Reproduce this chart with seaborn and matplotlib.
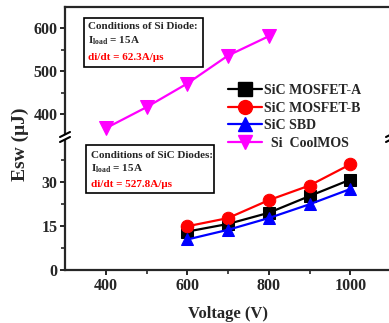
import numpy as np
import pandas as pd
import matplotlib
matplotlib.use("Agg")
import matplotlib.pyplot as plt
from matplotlib.lines import Line2D
from matplotlib.patches import Rectangle
import seaborn as sns

# ---- data -------------------------------------------------------------
sic_voltage = [600, 700, 800, 900, 1000]
mosfet_a = [13.1, 15.7, 19.5, 25.2, 30.8]
mosfet_b = [14.9, 17.7, 23.8, 28.8, 36.0]
sic_sbd = [10.4, 13.7, 17.7, 22.4, 27.6]

si_voltage = [400, 500, 600, 700, 800]
si_coolmos = [368, 417, 472, 537, 582]

series_names = ["SiC MOSFET-A", "SiC MOSFET-B", "SiC SBD", "Si  CoolMOS"]
series_colors = ["#000000", "#ff0000", "#0000ff", "#ff00ff"]
series_markers = ["s", "o", "^", "v"]

x_ticks = [400, 600, 800, 1000]
upper_yticks = [400, 500, 600]
lower_yticks = [0, 15, 30]

# ---- style ------------------------------------------------------------
sns.set_style("ticks")
plt.rcParams["font.family"] = ["Liberation Serif", "DejaVu Serif"]
plt.rcParams["font.weight"] = "bold"
plt.rcParams["mathtext.fontset"] = "custom"
plt.rcParams["mathtext.rm"] = "Liberation Serif:bold"
plt.rcParams["mathtext.bf"] = "Liberation Serif:bold"
plt.rcParams["axes.linewidth"] = 1.6

palette = dict(zip(series_names, series_colors))
marker_map = dict(zip(series_names, series_markers))

low = pd.DataFrame({
    "Voltage": sic_voltage * 3,
    "Esw": mosfet_a + mosfet_b + sic_sbd,
    "Device": [series_names[0]] * 5 + [series_names[1]] * 5 + [series_names[2]] * 5,
})
high = pd.DataFrame({
    "Voltage": si_voltage,
    "Esw": si_coolmos,
    "Device": [series_names[3]] * 5,
})

W, H = 389, 323
fig = plt.figure(figsize=(W / 100, H / 100), dpi=100)
left, right = 65 / W, 391 / W
ax_up = fig.add_axes([left, 1 - 136 / H, right - left, 129 / H])
ax_lo = fig.add_axes([left, 1 - 270 / H, right - left, 132 / H])

sns.lineplot(data=high, x="Voltage", y="Esw", hue="Device", style="Device",
             palette=palette, markers=marker_map, dashes=False,
             linewidth=1.6, markersize=10, legend=False, ax=ax_up)
sns.lineplot(data=low, x="Voltage", y="Esw", hue="Device", style="Device",
             hue_order=series_names[:3], style_order=series_names[:3],
             palette=palette, markers=marker_map, dashes=False,
             linewidth=1.6, markersize=9, legend=False, ax=ax_lo)
for ax in (ax_up, ax_lo):
    for ln in ax.lines:
        ln.set_markeredgecolor(ln.get_color())
        ln.set_markerfacecolor(ln.get_color())

# ---- axes -------------------------------------------------------------
for ax in (ax_up, ax_lo):
    ax.set_xlim(300, 1100)
    ax.set_xlabel("")
    ax.set_ylabel("")
    ax.tick_params(axis="both", which="major", direction="out", length=3.5,
                   width=1.4, labelsize=11.5, pad=2)
    ax.tick_params(axis="both", which="minor", direction="out", length=3,
                   width=1.2)

ax_up.set_ylim(350, 650)
ax_up.set_yticks(upper_yticks)
ax_up.set_yticks([450, 550], minor=True)
ax_up.spines["bottom"].set_visible(False)
ax_up.tick_params(axis="x", which="both", bottom=False, labelbottom=False)

ax_lo.set_ylim(0, 45)
ax_lo.set_yticks(lower_yticks)
ax_lo.set_yticks([7.5, 22.5, 37.5], minor=True)
ax_lo.set_xticks(x_ticks)
ax_lo.set_xticks([500, 700, 900], minor=True)
ax_lo.spines["top"].set_visible(False)
ax_lo.set_xlabel("Voltage (V)", fontsize=12, fontweight="bold", labelpad=9)

for ax in (ax_up, ax_lo):
    for lab in ax.get_yticklabels() + ax.get_xticklabels():
        lab.set_fontweight("bold")

fig.text(20 / W, 1 - 144 / H, "Esw (\u03bcJ)", rotation=90, ha="center",
         va="center", fontsize=14, fontweight="bold")

# ---- axis break marks -------------------------------------------------
for bx in (65, 391):
    fig.add_artist(Rectangle(((bx - 3) / W, 1 - 139 / H), 6 / W, 4 / H,
                             transform=fig.transFigure, fc="white", ec="none",
                             zorder=5))
    for by in (134.5, 139.5):
        fig.add_artist(Line2D([(bx - 5) / W, (bx + 5) / W],
                              [1 - (by + 2.5) / H, 1 - (by - 2.5) / H],
                              transform=fig.transFigure, color="black",
                              lw=1.5, zorder=6))

# ---- condition boxes --------------------------------------------------
def condition_box(ax, x0, x1, y0, y1, tx, ys, title, rate):
    ax.add_patch(Rectangle((x0, y0), x1 - x0, y1 - y0, transform=ax.transAxes,
                           fc="white", ec="black", lw=1.2, zorder=4))
    ax.text(tx, ys[0], title, transform=ax.transAxes, fontsize=8,
            fontweight="bold", va="center", zorder=5)
    ax.text(tx, ys[1], r"I$_{\mathrm{load}}$ = 15A", transform=ax.transAxes,
            fontsize=8, fontweight="bold", va="center", zorder=5)
    ax.text(tx, ys[2], rate, transform=ax.transAxes, fontsize=8,
            fontweight="bold", color="#ff0000", va="center", zorder=5)

condition_box(ax_up, 0.058, 0.423, 0.535, 0.915, 0.071,
              (0.845, 0.736, 0.612), "Conditions of Si Diode:",
              "di/dt = 62.3A/\u03bcs")
condition_box(ax_lo, 0.064, 0.457, 0.583, 0.947, 0.080,
              (0.871, 0.765, 0.644), "Conditions of SiC Diodes:",
              "di/dt = 527.8A/\u03bcs")

# ---- legend -----------------------------------------------------------
handles = []
for name, col, mk in zip(series_names, series_colors, series_markers):
    handles.append(Line2D([], [], color=col, marker=mk, markersize=10,
                          markerfacecolor=col, markeredgecolor=col, lw=1.6))
labels = list(series_names)
labels[3] = "  " + labels[3]
fig.legend(handles, labels, loc="upper left",
           bbox_to_anchor=(228 / W, 1 - 84 / H), frameon=False,
           handlelength=2.45, handletextpad=0.15,
           labelspacing=0.33, borderaxespad=0, borderpad=0,
           prop={"weight": "bold", "size": 10})

fig.savefig("out.png", dpi=100)
